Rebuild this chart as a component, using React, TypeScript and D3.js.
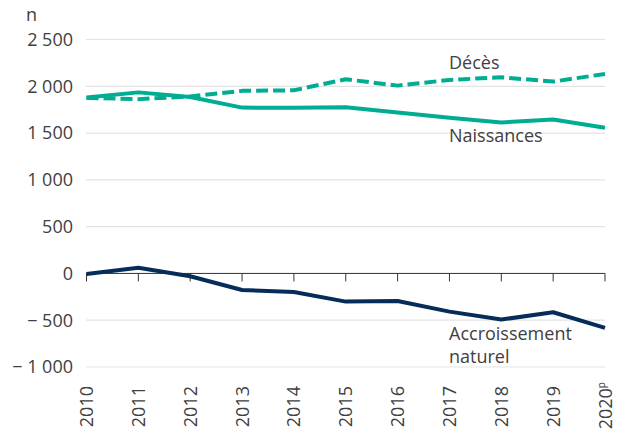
import React from "react";
import * as d3 from "d3";

const years = ["2010", "2011", "2012", "2013", "2014", "2015", "2016", "2017", "2018", "2019", "2020"];
const naissances = [1880, 1935, 1885, 1772, 1770, 1776, 1720, 1663, 1613, 1645, 1556];
const deces = [1876, 1862, 1892, 1951, 1957, 2075, 2007, 2068, 2096, 2050, 2132];
const accroissement = [-6, 60, -30, -177, -198, -301, -294, -408, -493, -415, -582];
const yTicks = [2500, 2000, 1500, 1000, 500, 0, -500, -1000];

const W = 621;
const H = 432;
const FONT = "'Open Sans', sans-serif";
const TEAL = "#00ad92";
const NAVY = "#062d59";
const TXT = "#404040";
const FS = 18;

function fmt(v: number): string {
  const abs = Math.abs(v);
  const s = abs >= 1000 ? `${Math.floor(abs / 1000)} ${String(abs % 1000).padStart(3, "0")}` : String(abs);
  return v < 0 ? `− ${s}` : s;
}

export default function App() {
  const x = d3.scalePoint<string>().domain(years).range([86.5, 605]);
  const y = d3.scaleLinear().domain([-1000, 2500]).range([367, 39.5]);
  const line = d3
    .line<number>()
    .x((_, i) => x(years[i]) as number)
    .y((d) => y(d));

  return (
    <svg width={W} height={H} style={{ position: "absolute", left: 0, top: 0 }} fontFamily={FONT}>
      {yTicks.filter((t) => t !== 0).map((t) => (
        <line key={t} x1={86} x2={605} y1={y(t)} y2={y(t)} stroke="#e3e3e3" strokeWidth={1.2} />
      ))}
      {yTicks.map((t) => (
        <text key={"l" + t} x={73} y={y(t)} dy="0.35em" textAnchor="end" fontSize={FS} fill={TXT}>
          {fmt(t)}
        </text>
      ))}
      <text x={26} y={21} fontSize={FS} fill={TXT}>n</text>
      <line x1={86} x2={605} y1={y(0)} y2={y(0)} stroke="#333" strokeWidth={1} />
      {years.map((yr) => (
        <line key={"t" + yr} x1={x(yr)} x2={x(yr)} y1={y(0)} y2={y(0) + 8} stroke="#333" strokeWidth={1} />
      ))}
      {years.map((yr, i) => (
        <text
          key={"x" + yr}
          transform={`translate(${(x(yr) as number) + 6.5},${i === years.length - 1 ? 382 : 386}) rotate(-90)`}
          textAnchor="end"
          fontSize={FS}
          fill={TXT}
        >
          {yr}
          {i === years.length - 1 ? (
            <tspan fontSize={10} dy={-7}>p</tspan>
          ) : null}
        </text>
      ))}
      <path d={line(naissances) || ""} fill="none" stroke={TEAL} strokeWidth={4} strokeLinejoin="round" />
      <path d={line(deces) || ""} fill="none" stroke={TEAL} strokeWidth={4} strokeDasharray="12 5" strokeLinejoin="round" />
      <path d={line(accroissement) || ""} fill="none" stroke={NAVY} strokeWidth={4} strokeLinejoin="round" />
      <text x={449} y={69} fontSize={FS} fill={TXT}>Décès</text>
      <text x={449} y={142} fontSize={FS} fill={TXT}>Naissances</text>
      <text x={449} y={340} fontSize={FS} fill={TXT}>Accroissement</text>
      <text x={449} y={363} fontSize={FS} fill={TXT}>naturel</text>
    </svg>
  );
}
